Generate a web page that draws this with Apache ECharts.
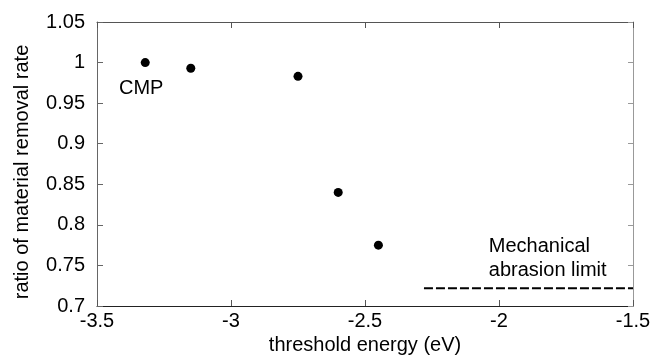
<!DOCTYPE html>
<html>
<head>
<meta charset="utf-8">
<script src="https://cdn.jsdelivr.net/npm/echarts@6/dist/echarts.min.js"></script>
<style>
  html, body { margin: 0; padding: 0; background: #fff; }
  #chart { width: 653px; height: 356px; }
</style>
</head>
<body>
<div id="chart"></div>
<script>
// Measured points: threshold energy (eV) vs ratio of material removal rate
const thresholdEnergy = [-3.32, -3.15, -2.75, -2.60, -2.45];
const removalRatio = [1.0, 0.993, 0.983, 0.84, 0.775];

// Mechanical abrasion limit (dashed horizontal segment)
const limitX = [-2.28, -1.5];
const limitY = 0.722;

// Annotations, anchored in data coordinates (left edge, vertical middle)
const cmpLabel = { text: 'CMP', x: -3.42, y: 0.968 };
const limitLabel = { text: 'Mechanical\nabrasion limit', x: -2.04, y: 0.758 };

const FONT = '"Liberation Sans", Arial, sans-serif';
const FONT_SIZE = 20;

const chart = echarts.init(document.getElementById('chart'), null, { renderer: 'canvas' });

const tickLabel = (v) => String(Math.round(v * 100) / 100);

const option = {
  backgroundColor: '#fff',
  animation: false,
  grid: { left: 97, right: 20, top: 22, bottom: 50, containLabel: false, outerBoundsMode: 'none' },
  xAxis: [
    {
      type: 'value',
      min: -3.5,
      max: -1.5,
      interval: 0.5,
      name: 'threshold energy (eV)',
      nameLocation: 'middle',
      nameGap: 26,
      nameTextStyle: { color: '#000', fontSize: FONT_SIZE, fontFamily: FONT },
      axisLine: { show: true, onZero: false, lineStyle: { color: '#222', width: 1 } },
      axisTick: { show: true, inside: true, length: 6, lineStyle: { color: '#555' } },
      axisLabel: { color: '#000', fontSize: FONT_SIZE, fontFamily: FONT, margin: 5, formatter: tickLabel },
      splitLine: { show: false },
    },
    {
      type: 'value',
      position: 'top',
      min: -3.5,
      max: -1.5,
      interval: 0.5,
      axisLine: { show: true, onZero: false, lineStyle: { color: '#555', width: 1 } },
      axisTick: { show: true, inside: true, length: 6, lineStyle: { color: '#555' } },
      axisLabel: { show: false },
      splitLine: { show: false },
    },
  ],
  yAxis: [
    {
      type: 'value',
      min: 0.7,
      max: 1.05,
      interval: 0.05,
      name: 'ratio of material removal rate',
      nameLocation: 'middle',
      nameGap: 65,
      nameTextStyle: { color: '#000', fontSize: FONT_SIZE, fontFamily: FONT, padding: [0, 16, 0, 0] },
      axisLine: { show: true, onZero: false, lineStyle: { color: '#666', width: 1 } },
      axisTick: { show: true, inside: true, length: 6, lineStyle: { color: '#666' } },
      axisLabel: { color: '#000', fontSize: FONT_SIZE, fontFamily: FONT, margin: 12, formatter: tickLabel },
      splitLine: { show: false },
    },
    {
      type: 'value',
      position: 'right',
      min: 0.7,
      max: 1.05,
      interval: 0.05,
      axisLine: { show: true, onZero: false, lineStyle: { color: '#999', width: 1 } },
      axisTick: { show: true, inside: true, length: 5, lineStyle: { color: '#999' } },
      axisLabel: { show: false },
      splitLine: { show: false },
    },
  ],
  series: [
    {
      name: 'data',
      type: 'scatter',
      data: thresholdEnergy.map((x, i) => [x, removalRatio[i]]),
      symbol: 'circle',
      symbolSize: 9,
      itemStyle: { color: '#000', opacity: 1 },
      z: 3,
    },
    {
      name: 'limit',
      type: 'line',
      data: limitX.map((x) => [x, limitY]),
      symbol: 'none',
      lineStyle: { color: '#000', width: 2, type: [9, 3] },
      z: 2,
    },
    {
      name: 'annotations',
      type: 'scatter',
      symbol: 'circle',
      symbolSize: 1,
      silent: true,
      itemStyle: { color: 'rgba(0,0,0,0)', opacity: 1 },
      data: [cmpLabel, limitLabel].map((a) => ({
        value: [a.x, a.y],
        label: {
          show: true,
          formatter: a.text,
          position: 'right',
          distance: 0,
          color: '#000',
          opacity: 1,
          fontSize: FONT_SIZE,
          fontFamily: FONT,
          lineHeight: 24,
          align: 'left',
        },
      })),
      z: 4,
    },
  ],
};

chart.setOption(option);
</script>
</body>
</html>
